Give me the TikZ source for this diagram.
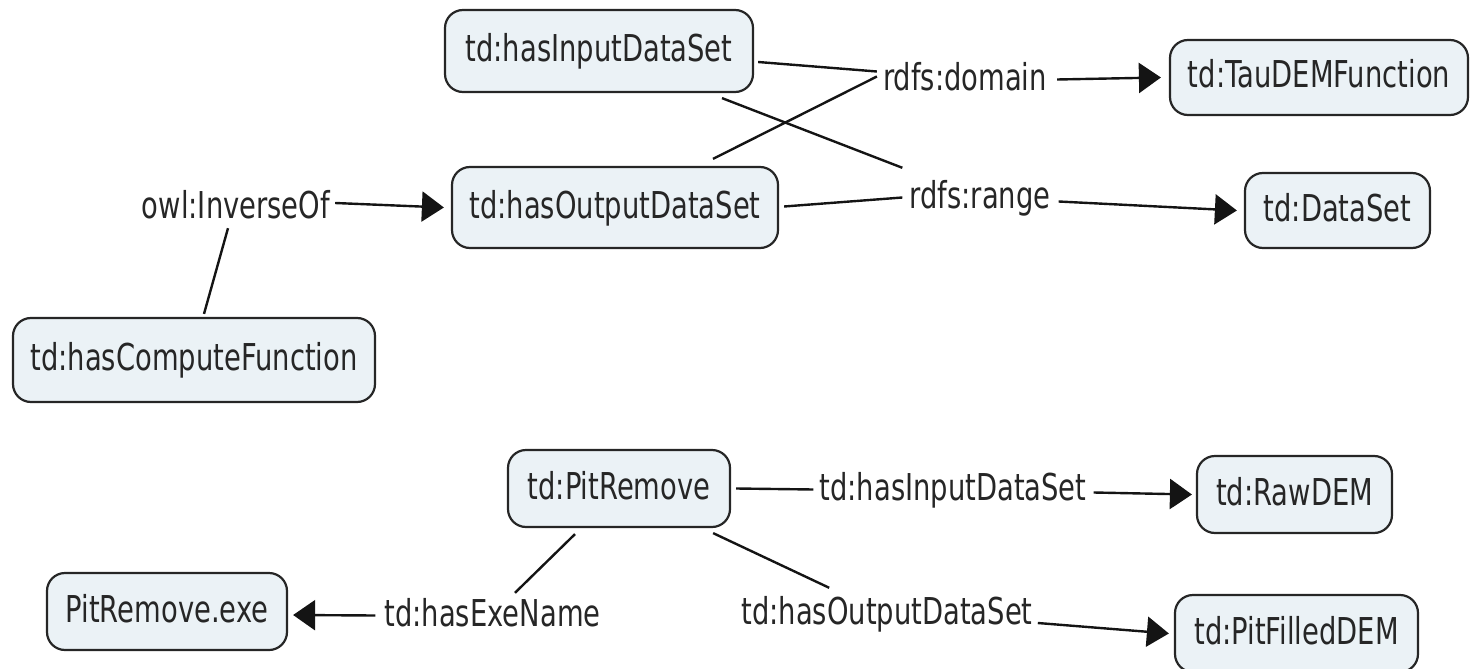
\documentclass[tikz,border=0pt]{standalone}
\usepackage{fontspec}
\setmainfont{DejaVu Sans}[FakeStretch=0.74]
\usetikzlibrary{arrows.meta}
\definecolor{conceptfill}{HTML}{EBF2F6}
\definecolor{conceptline}{HTML}{262626}
\definecolor{linkline}{HTML}{141414}
\begin{document}
\begin{tikzpicture}[x=1pt,y=-1pt,
  labelfont/.style={font=\fontsize{37}{40}\selectfont, text=black!85},
  concept/.style={labelfont, draw=conceptline, line width=2.2pt, fill=conceptfill,
    rounded corners=18pt, inner sep=0pt, text height=28pt, text depth=7pt},
  phrase/.style={labelfont, inner sep=0pt, text height=28pt, text depth=7pt},
  link/.style={draw=linkline, line width=2.4pt},
  linkarrow/.style={link, -{Triangle[length=22pt,width=30pt]}}
]
\useasboundingbox (0,0) rectangle (1470,669);

% concepts
\node[concept, minimum width=308pt, minimum height=82pt] (inD)  at (599,51)      {td:hasInputDataSet};
\node[concept, minimum width=326pt, minimum height=81pt] (outD) at (615,207.5)   {td:hasOutputDataSet};
\node[concept, minimum width=298pt, minimum height=75pt] (tau)  at (1319,77.5)   {td:TauDEMFunction};
\node[concept, minimum width=185pt, minimum height=75pt] (ds)   at (1337.5,210.5){td:DataSet};
\node[concept, minimum width=362pt, minimum height=84pt] (hcf)  at (194,360)     {td:hasComputeFunction};
\node[concept, minimum width=222pt, minimum height=77pt] (pr)   at (619,488.5)   {td:PitRemove};
\node[concept, minimum width=195pt, minimum height=77pt] (raw)  at (1294.5,494.5){td:RawDEM};
\node[concept, minimum width=240pt, minimum height=77pt] (exe)  at (167,611.5)   {PitRemove.exe};
\node[concept, minimum width=243pt, minimum height=77pt] (pfd)  at (1296.5,633.5){td:PitFilledDEM};

% linking phrases
\node[phrase] (domain) at (965,79.5)    {rdfs:domain};
\node[phrase] (range)  at (980,197.5)   {rdfs:range};
\node[phrase] (owl)    at (236,207.5)   {owl:InverseOf};
\node[phrase] (pIn)    at (953,489.5)   {td:hasInputDataSet};
\node[phrase] (pOut)   at (887,613.5)   {td:hasOutputDataSet};
\node[phrase] (pExe)   at (492.5,615.5) {td:hasExeName};

% property definitions
\draw[link] ([xshift=4pt,yshift=-11pt]inD.east) -- ([xshift=-6pt,yshift=8pt]domain.west);
\draw[link] ([xshift=98pt,yshift=7pt]outD.north) -- ([xshift=-6pt,yshift=3pt]domain.west);
\draw[link] ([xshift=123pt,yshift=-5pt]inD.south) -- ([xshift=-7pt,yshift=12pt]range.north west);
\draw[link] ([xshift=5pt,yshift=1pt]outD.east) -- ([xshift=-7pt]range.west);
\draw[linkarrow] ([xshift=10pt]domain.east) -- ([xshift=-8pt]tau.west);
\draw[linkarrow] ([xshift=8pt,yshift=-4pt]range.east) -- ([xshift=-7pt]ds.west);
\draw[linkarrow] ([xshift=5pt,yshift=4.5pt]owl.east) -- ([xshift=-7pt]outD.west);
\draw[link] ([xshift=-8pt,yshift=-3pt]owl.south) -- ([xshift=10pt,yshift=3pt]hcf.north);

% PitRemove instance
\draw[link] ([xshift=5pt]pr.east) -- ([xshift=-6pt]pIn.west);
\draw[linkarrow] ([xshift=7pt,yshift=-3pt]pIn.east) -- ([xshift=-4pt]raw.west);
\draw[link] ([xshift=-18pt,yshift=-5pt]pr.south east) -- ([xshift=88pt,yshift=8pt]pOut.north west);
\draw[linkarrow] ([xshift=5pt,yshift=-9.5pt]pOut.east) -- ([xshift=-5pt]pfd.west);
\draw[link] ([xshift=-44pt,yshift=-6pt]pr.south) -- ([xshift=22.5pt,yshift=5pt]pExe.north);
\draw[linkarrow] ([xshift=-9pt]pExe.west) -- ([xshift=5pt,yshift=-3.5pt]exe.east);
\end{tikzpicture}
\end{document}
